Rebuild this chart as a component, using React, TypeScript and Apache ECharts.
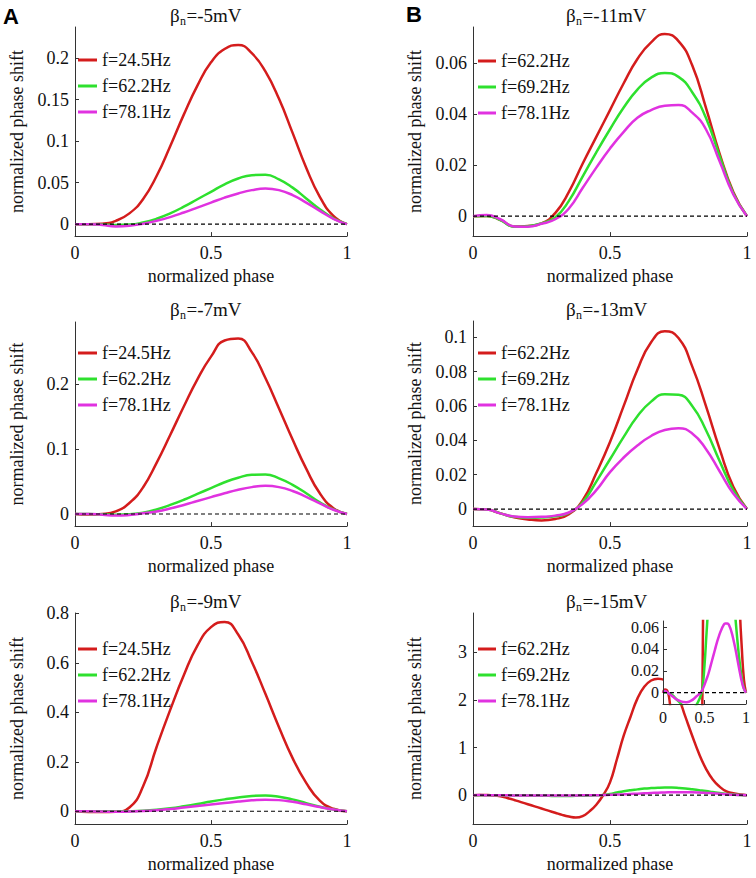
import React, { useEffect, useRef } from 'react';
import * as echarts from 'echarts';

// ---------- data ----------
const X = [0, 0.05, 0.1, 0.15, 0.2, 0.25, 0.3, 0.35, 0.4, 0.45, 0.5, 0.55, 0.6, 0.65, 0.7, 0.75, 0.8, 0.85, 0.9, 0.95, 1];
const X_FINE = [0, 0.025, 0.05, 0.075, 0.1, 0.125, 0.15, 0.175, 0.2, 0.225, 0.25, 0.275, 0.3, 0.325, 0.35, 0.375, 0.4, 0.425, 0.45, 0.475, 0.5,
  0.525, 0.55, 0.575, 0.6, 0.625, 0.65, 0.675, 0.7, 0.725, 0.75, 0.775, 0.8, 0.825, 0.85, 0.875, 0.9, 0.925, 0.95, 0.975, 1];

const LEGEND_A = ['f=24.5Hz', 'f=62.2Hz', 'f=78.1Hz'];
const LEGEND_B = ['f=62.2Hz', 'f=69.2Hz', 'f=78.1Hz'];
const TITLE_VALUES = ['=-5mV', '=-7mV', '=-9mV', '=-11mV', '=-13mV', '=-15mV'];
const X_NAME = 'normalized phase';
const Y_NAME = 'normalized phase shift';

const X_TICKS = [0, 0.5, 1];
const Y_TICKS_A1 = [0, 0.05, 0.1, 0.15, 0.2];
const Y_TICKS_A2 = [0, 0.1, 0.2];
const Y_TICKS_A3 = [0, 0.2, 0.4, 0.6, 0.8];
const Y_TICKS_B1 = [0, 0.02, 0.04, 0.06];
const Y_TICKS_B2 = [0, 0.02, 0.04, 0.06, 0.08, 0.1];
const Y_TICKS_B3 = [0, 1, 2, 3];
const Y_TICKS_INSET = [0, 0.02, 0.04, 0.06];

// beta_n = -5mV (on X)
const A1_RED = [0, 0, 0.0005, 0.004, 0.013, 0.03, 0.058, 0.094, 0.132, 0.167, 0.195, 0.211, 0.216, 0.206, 0.184, 0.151, 0.11, 0.068, 0.033, 0.01, 0];
const A1_GREEN = [0, 0, -0.0005, -0.001, -0.0005, 0.002, 0.0065, 0.013, 0.021, 0.03, 0.039, 0.048, 0.055, 0.059, 0.0595, 0.054, 0.044, 0.031, 0.018, 0.007, 0];
const A1_MAGENTA = [0, 0, -0.001, -0.0028, -0.002, 0.0005, 0.004, 0.0085, 0.014, 0.02, 0.026, 0.032, 0.037, 0.041, 0.043, 0.041, 0.035, 0.026, 0.016, 0.0065, 0];
// beta_n = -7mV (on X)
const A2_RED = [0, -0.0008, 0, 0.004, 0.017, 0.041, 0.079, 0.122, 0.166, 0.208, 0.243, 0.268, 0.271, 0.25, 0.21, 0.163, 0.115, 0.07, 0.032, 0.009, 0];
const A2_GREEN = [0, 0, -0.0005, -0.001, -0.0005, 0.002, 0.007, 0.014, 0.022, 0.031, 0.04, 0.049, 0.056, 0.0605, 0.061, 0.055, 0.045, 0.032, 0.018, 0.007, 0];
const A2_MAGENTA = [0, 0, -0.001, -0.0025, -0.0015, 0.001, 0.004, 0.0085, 0.014, 0.02, 0.026, 0.032, 0.0375, 0.0415, 0.0435, 0.0415, 0.0355, 0.0265, 0.0165, 0.0065, 0];
// beta_n = -9mV (on X)
const A3_RED = [0, -0.003, -0.003, -0.002, 0.015, 0.1, 0.26, 0.41, 0.55, 0.67, 0.745, 0.766, 0.715, 0.605, 0.475, 0.34, 0.215, 0.115, 0.043, 0.01, 0];
const A3_GREEN = [0, 0, 0, -0.0008, 0, 0.002, 0.006, 0.012, 0.02, 0.029, 0.039, 0.048, 0.056, 0.062, 0.064, 0.059, 0.048, 0.033, 0.018, 0.007, 0];
const A3_MAGENTA = [0, 0, -0.0015, -0.0025, -0.0015, 0.0005, 0.004, 0.009, 0.015, 0.021, 0.027, 0.033, 0.039, 0.044, 0.047, 0.045, 0.038, 0.028, 0.017, 0.007, 0];
// beta_n = -11mV (on X)
const B1_RED = [0, 0.0001, -0.0015, -0.004, -0.0038, -0.0028, 0.0012, 0.0095, 0.0205, 0.031, 0.0415, 0.052, 0.0615, 0.068, 0.0713, 0.0685, 0.059, 0.0425, 0.0245, 0.0095, 0];
const B1_GREEN = [0, 0.0001, -0.0015, -0.0041, -0.0039, -0.0028, -0.0005, 0.006, 0.0155, 0.025, 0.034, 0.0425, 0.0495, 0.0542, 0.056, 0.0545, 0.0485, 0.0385, 0.0235, 0.009, 0];
const B1_MAGENTA = [0, 0.0005, -0.0012, -0.004, -0.0041, -0.003, -0.0012, 0.003, 0.011, 0.019, 0.0265, 0.033, 0.0385, 0.0415, 0.0432, 0.0435, 0.0405, 0.034, 0.0215, 0.0085, 0];
// beta_n = -13mV (on X)
const B2_RED = [0, -0.0003, -0.0025, -0.0048, -0.006, -0.0066, -0.0058, -0.003, 0.005, 0.021, 0.039, 0.06, 0.081, 0.097, 0.1035, 0.0995, 0.083, 0.06, 0.035, 0.013, 0];
const B2_GREEN = [0, -0.0003, -0.0025, -0.0045, -0.005, -0.0049, -0.0042, -0.0022, 0.004, 0.016, 0.029, 0.042, 0.054, 0.0625, 0.0668, 0.0665, 0.06, 0.046, 0.028, 0.011, 0];
const B2_MAGENTA = [0, -0.0002, -0.0025, -0.0043, -0.0047, -0.0045, -0.0038, -0.002, 0.003, 0.011, 0.0215, 0.03, 0.037, 0.0425, 0.046, 0.047, 0.044, 0.035, 0.022, 0.009, 0];
// beta_n = -15mV (on X_FINE)
const B3_RED = [0, 0.003, 0.002, -0.005, -0.025, -0.06, -0.1, -0.145, -0.19, -0.235, -0.28, -0.325, -0.37, -0.415, -0.45, -0.47, -0.44, -0.34, -0.2, 0, 0.27,
  0.75, 1.25, 1.65, 2.03, 2.28, 2.41, 2.45, 2.42, 2.28, 2.05, 1.65, 1.25, 0.87, 0.56, 0.33, 0.18, 0.08, 0.04, 0.012, 0];
const B3_GREEN = [0, 0.0005, 0, -0.0005, -0.0015, -0.003, -0.005, -0.007, -0.0088, -0.011, -0.013, -0.0145, -0.0155, -0.016, -0.0155, -0.014, -0.0115, -0.008, -0.0035, 0.004, 0.025,
  0.055, 0.083, 0.105, 0.122, 0.139, 0.15, 0.157, 0.16, 0.159, 0.153, 0.142, 0.125, 0.106, 0.087, 0.066, 0.045, 0.027, 0.013, 0.004, 0];
const B3_MAGENTA = [0, 0.0015, 0.0005, -0.001, -0.0025, -0.004, -0.0055, -0.0066, -0.0075, -0.0081, -0.0085, -0.0086, -0.0084, -0.0078, -0.0068, -0.0053, -0.0035, -0.002, -0.0002, 0.0028, 0.0072,
  0.0125, 0.018, 0.025, 0.032, 0.039, 0.046, 0.052, 0.057, 0.061, 0.0633, 0.0633, 0.061, 0.0555, 0.048, 0.039, 0.029, 0.019, 0.01, 0.0035, 0];

// ---------- styling / layout ----------
const COLORS = ['#d41c1c', '#2ee02e', '#e032e0'];
const FONT = 'Liberation Serif';
const TXT = '#111';
const AX = '#333';

// each panel is its own chart placed in its own region of the page (page coordinates)
const PANELS = [
  { box: [0, 0, 378, 290], letter: 'A', xs: X, left: 71, top: 27, width: 276, height: 210, ymin: -0.0144, ymax: 0.2376, yticks: Y_TICKS_A1, lines: [A1_RED, A1_GREEN, A1_MAGENTA], names: LEGEND_A, lgLeft: 78, lgTop: 51, lgW: 19, tCx: 203, tTop: 6, title: TITLE_VALUES[0] },
  { box: [0, 290, 378, 290], letter: '', xs: X, left: 71, top: 322, width: 276, height: 209, ymin: -0.0187, ymax: 0.2965, yticks: Y_TICKS_A2, lines: [A2_RED, A2_GREEN, A2_MAGENTA], names: LEGEND_A, lgLeft: 78, lgTop: 344, lgW: 19, tCx: 203, tTop: 300, title: TITLE_VALUES[1] },
  { box: [0, 580, 378, 298], letter: '', xs: X, left: 71, top: 613, width: 276, height: 213, ymin: -0.052, ymax: 0.802, yticks: Y_TICKS_A3, lines: [A3_RED, A3_GREEN, A3_MAGENTA], names: LEGEND_A, lgLeft: 78, lgTop: 640, lgW: 19, tCx: 203, tTop: 592, title: TITLE_VALUES[2] },
  { box: [378, 0, 378, 290], letter: 'B', xs: X, left: 473, top: 27, width: 274, height: 210, ymin: -0.0078, ymax: 0.074, yticks: Y_TICKS_B1, lines: [B1_RED, B1_GREEN, B1_MAGENTA], names: LEGEND_B, lgLeft: 478, lgTop: 52, lgW: 18, tCx: 604, tTop: 6, title: TITLE_VALUES[3] },
  { box: [378, 290, 378, 290], letter: '', xs: X, left: 473, top: 321, width: 274, height: 210, ymin: -0.0099, ymax: 0.1094, yticks: Y_TICKS_B2, lines: [B2_RED, B2_GREEN, B2_MAGENTA], names: LEGEND_B, lgLeft: 478, lgTop: 344, lgW: 18, tCx: 604, tTop: 300, title: TITLE_VALUES[4] },
  { box: [378, 580, 378, 298], letter: '', xs: X_FINE, left: 473, top: 613, width: 274, height: 212, ymin: -0.608, ymax: 3.83, yticks: Y_TICKS_B3, lines: [B3_RED, B3_GREEN, B3_MAGENTA], names: LEGEND_B, lgLeft: 478, lgTop: 640, lgW: 18, tCx: 604, tTop: 592, title: TITLE_VALUES[5] },
];
const LETTER_POS: Record<string, number[]> = { A: [3, 5], B: [406, 3] };
const INSET = { left: 663, top: 621, width: 83, height: 83, ymin: -0.0103, ymax: 0.0655 };

const num = (v: any) => String(parseFloat(Number(v).toFixed(4)));

function buildOption(p: any, withInset: boolean) {
  const ox = p.box[0];
  const oy = p.box[1];
  const grid: any[] = [];
  const xAxis: any[] = [];
  const yAxis: any[] = [];
  const series: any[] = [];

  const label = (fs: number, margin: number, ticks: number[]) => ({
    show: true, customValues: ticks, formatter: num, fontSize: fs, fontFamily: FONT, color: TXT, margin,
  });
  const nameStyle = { fontSize: 18, fontFamily: FONT, color: TXT };

  const mkX = (gi: number, fs: number, margin: number, withName: boolean, z: number) => ({
    type: 'value', gridIndex: gi, min: 0, max: 1, z,
    axisLine: { show: true, onZero: false, lineStyle: { color: AX, width: 1 } },
    axisTick: { show: true, inside: true, length: 4, customValues: X_TICKS, lineStyle: { color: AX } },
    axisLabel: label(fs, margin, X_TICKS),
    splitLine: { show: false },
    name: withName ? X_NAME : '', nameLocation: 'middle', nameGap: 30, nameTextStyle: nameStyle,
  });
  const mkY = (gi: number, min: number, max: number, ticks: number[], fs: number, margin: number, withName: boolean, z: number) => ({
    type: 'value', gridIndex: gi, min, max, z,
    axisLine: { show: true, onZero: false, lineStyle: { color: AX, width: 1 } },
    axisTick: { show: true, inside: true, length: 4, customValues: ticks, lineStyle: { color: AX } },
    axisLabel: label(fs, margin, ticks),
    splitLine: { show: false },
    name: withName ? Y_NAME : '', nameLocation: 'middle', nameGap: 49, nameTextStyle: nameStyle,
  });
  const mkLines = (gi: number, xs: number[], lines: number[][], names: string[], z: number) => {
    lines.forEach((arr, k) => {
      series.push({
        type: 'line', name: names[k], xAxisIndex: gi, yAxisIndex: gi, z,
        data: xs.map((x, i) => [x, arr[i]]),
        showSymbol: false, symbol: 'none', smooth: 0.5, silent: true,
        lineStyle: { color: COLORS[k], width: 2.5 }, itemStyle: { color: COLORS[k] },
      });
    });
    series.push({
      type: 'line', name: 'zero' + gi, xAxisIndex: gi, yAxisIndex: gi, z: z + 1,
      data: [[0, 0], [1, 0]], showSymbol: false, symbol: 'none', silent: true,
      lineStyle: { color: '#000', width: 1.2, type: [4, 3] },
    });
  };

  grid.push({ left: p.left - ox, top: p.top - oy, width: p.width, height: p.height, containLabel: false });
  xAxis.push(mkX(0, 18, 8, true, 0));
  yAxis.push(mkY(0, p.ymin, p.ymax, p.yticks, 18, 6, true, 0));
  mkLines(0, p.xs, p.lines, p.names, 2);

  if (withInset) {
    grid.push({ left: INSET.left - ox, top: INSET.top - oy, width: INSET.width, height: INSET.height, containLabel: false, show: true, backgroundColor: '#ffffff', borderWidth: 0, z: 10 });
    xAxis.push(mkX(1, 16, 5, false, 12));
    yAxis.push(mkY(1, INSET.ymin, INSET.ymax, Y_TICKS_INSET, 16, 4, false, 12));
    mkLines(1, p.xs, p.lines, ['inset-r', 'inset-g', 'inset-m'], 11);
  }

  const legend = {
    orient: 'vertical', left: p.lgLeft - ox, top: p.lgTop - oy, padding: 0,
    icon: 'rect', itemWidth: p.lgW, itemHeight: 3, itemGap: 8, selectedMode: false,
    textStyle: { fontSize: 18, fontFamily: FONT, color: TXT },
    data: p.names.map((n: string, k: number) => ({ name: n, itemStyle: { color: COLORS[k] } })),
  };

  // title "β" + subscript "n" + "=-5mV", centred on tCx; widths from Liberation Serif metrics
  const wBeta = 10;
  const wSub = 6.5;
  const wRest = 0.52 * 19 * p.title.length;
  const start = p.tCx - ox - (wBeta + wSub + wRest) / 2;
  const tStyle = (fs: number) => ({ fontSize: fs, fontFamily: FONT, fontWeight: 'normal', color: TXT });
  const title = [
    { text: 'β', left: start, top: p.tTop - oy, padding: 0, textStyle: tStyle(19) },
    { text: 'n', left: start + wBeta, top: p.tTop - oy + 9, padding: 0, textStyle: tStyle(12) },
    { text: p.title, left: start + wBeta + wSub, top: p.tTop - oy, padding: 0, textStyle: tStyle(19) },
  ];

  const graphic: any[] = [];
  if (p.letter) {
    const pos = LETTER_POS[p.letter];
    graphic.push({ type: 'text', left: pos[0] - ox, top: pos[1] - oy, style: { text: p.letter, font: 'bold 22px Liberation Sans', fill: '#000' } });
  }

  return { animation: false, grid, xAxis, yAxis, series, legend, title, graphic };
}

export default function App() {
  const refs = useRef<(HTMLDivElement | null)[]>([]);
  useEffect(() => {
    const charts = PANELS.map((p, i) => {
      const el = refs.current[i];
      if (!el) return null;
      const c = echarts.init(el, null, { renderer: 'svg' });
      c.setOption(buildOption(p, i === 5) as any);
      return c;
    });
    return () => charts.forEach((c) => c && c.dispose());
  }, []);
  return (
    <div style={{ position: 'absolute', left: 0, top: 0, width: 756, height: 878, background: '#fff' }}>
      {PANELS.map((p, i) => (
        <div
          key={i}
          ref={(el) => { refs.current[i] = el; }}
          style={{ position: 'absolute', left: p.box[0], top: p.box[1], width: p.box[2], height: p.box[3] }}
        />
      ))}
    </div>
  );
}
